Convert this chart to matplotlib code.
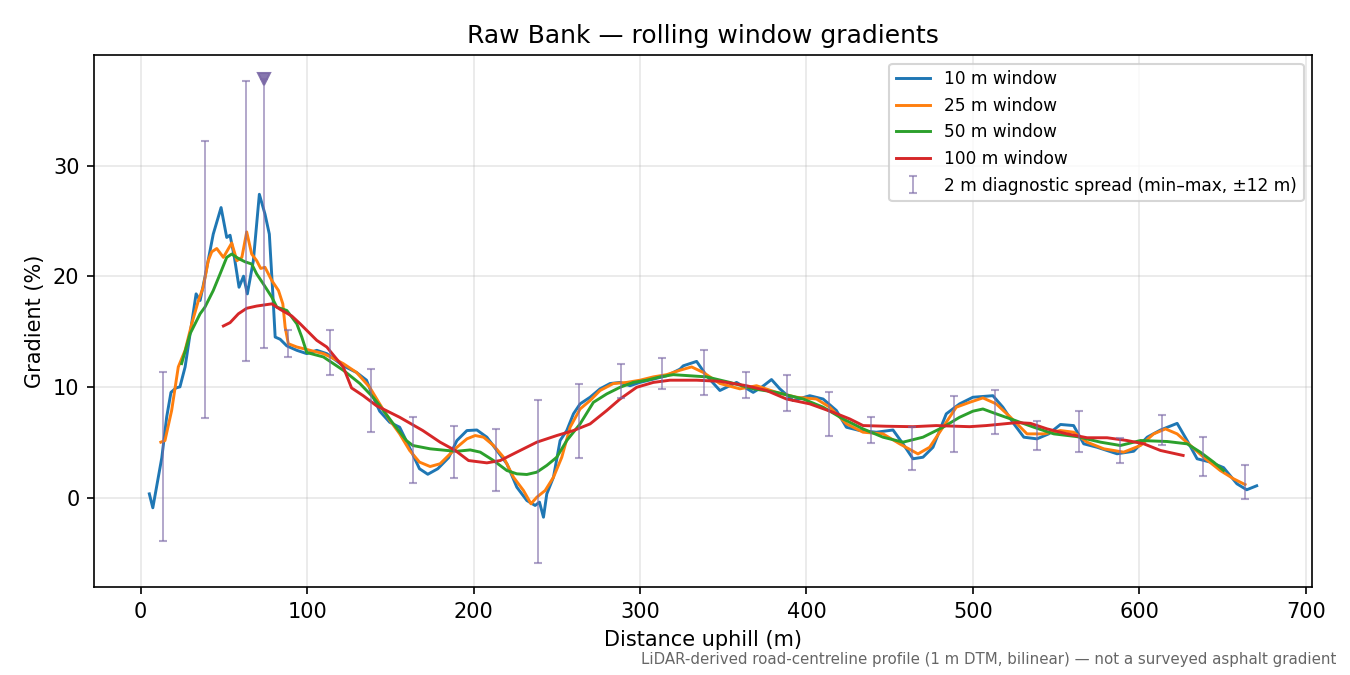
import numpy as np
import matplotlib
matplotlib.use("Agg")
from matplotlib import pyplot as plt

###########################
# rolling window gradients
x10 = [5.2, 7.3, 12.7, 15.6, 18.2, 21.2, 23.6, 26.7, 29.7, 33.3, 35.7, 38.6, 43.6, 48.3,
       51.7, 53.7, 56.3, 59.1, 61.8, 64.1, 67.7, 71.3, 74.7, 77.3, 79.4, 80.8, 83.8, 87.8,
       93.8, 99.8, 105.8, 111.8, 121.7, 129.7, 135.7, 139.6, 143.6, 149.6, 155.6, 161.6,
       167.5, 172.5, 178.5, 185, 190, 196, 202, 208, 214, 220, 226, 232, 237, 239.6, 242,
       244, 248, 252, 256, 260, 264, 270, 276, 282, 288, 294, 300, 308, 316, 324, 326, 334,
       340, 348, 358, 368, 373, 379, 384, 392, 402, 410, 418, 424, 432, 442, 452, 458, 464,
       470, 476, 484, 492, 500, 512, 518, 524.6, 530.6, 538.5, 545.5, 552.6, 560.5, 566.6,
       574.6, 586.6, 596.6, 604.7, 612.7, 622.7, 628.7, 634.7, 642.6, 650.6, 658.6, 664.5,
       670.5]
y10 = [0.33, -0.93, 3.6, 7.25, 9.5, 9.9, 10.0, 11.8, 14.8, 18.4, 17.8, 19.9, 23.8, 26.2,
       23.5, 23.7, 21.7, 19.0, 20.0, 18.4, 21.4, 27.4, 25.6, 23.8, 18.4, 14.5, 14.3, 13.7,
       13.3, 13.0, 13.3, 13.0, 11.9, 11.3, 10.6, 9.1, 7.8, 6.8, 6.35, 4.5,
       2.6, 2.1, 2.6, 3.6, 5.15, 6.05, 6.1, 5.45, 4.25, 3.05, 0.93, -0.27, -0.72, -0.42, -1.78,
       0.33, 1.83, 5.15, 6.05, 7.56, 8.46, 9.06, 9.82, 10.3, 10.4, 10.1, 10.4, 10.7, 11.0, 11.6, 11.9, 12.3,
       11.0, 9.67, 10.4, 9.5, 9.96, 10.66, 9.82, 8.76, 9.2, 8.9, 7.86, 6.35, 6.05, 5.9, 6.1, 4.85, 3.5,
       3.64, 4.54, 7.56, 8.46, 9.06, 9.2, 8.16, 6.66, 5.45, 5.3, 5.75, 6.6, 6.5, 4.85,
       4.54, 3.95, 4.18, 5.45, 6.1, 6.7, 5.15, 3.5, 3.2, 2.7, 1.24, 0.7,
       1.06]

x25 = [12.1, 14.6, 18.6, 22.6, 26.7, 30.7, 34.7, 37.6, 40.6, 42.7, 45.7, 49.7, 54.7, 57.8,
       60.8, 63.7, 66.7, 69.7, 72.1, 74.7, 78.8, 82.8, 85.4, 86.8, 88.7, 93.8, 101.8, 109.8,
       116.7, 121.7, 129.7, 137.6, 143.6, 149.6, 155.6, 161.6, 167.5, 173.9, 179.9, 185.9,
       190, 196, 201, 206, 212, 218, 224, 230, 234.5, 238, 243, 248, 253, 258, 264, 270, 276,
       284, 292, 300, 308, 316, 324, 331, 338, 348, 360, 370, 382, 394, 406, 414, 424, 434,
       446, 456, 467, 474, 482, 490, 498, 506, 514, 522.6, 532.5, 542.5, 552.6, 560.5, 568.6,
       578.6, 590.6, 600.7, 608.6, 615.7, 622.7, 630.7, 638.6, 648.6, 656.6, 663.5]
y25 = [5.0, 5.15, 7.86, 11.8, 13.3, 15.7, 17.8, 19.0, 21.4, 22.2, 22.5, 21.7, 23.0, 21.4,
       21.7, 24.0, 22.0, 21.4, 20.7, 20.8, 19.6, 18.7, 17.5, 15.4, 13.9, 13.6, 13.3, 13.0,
       12.5, 12.1, 11.3, 9.96, 8.46, 7.0, 5.75, 4.25, 3.2, 2.8, 3.05, 3.94,
       4.54, 5.3, 5.6, 5.45, 4.7, 3.64, 1.83, 0.63, -0.57, 0.03, 0.63, 1.83, 3.64, 6.35, 8.0, 8.76, 9.67,
       10.3, 10.4, 10.6, 10.9, 11.1, 11.5, 11.8, 11.3, 10.3, 9.82, 10.1, 9.5, 9.06, 8.9, 8.16, 6.66, 5.9,
       5.75, 4.85, 3.94, 4.54, 6.35, 8.16, 8.6, 9.0, 8.46, 7.25, 5.75, 5.75, 6.05, 5.9, 5.0,
       4.4, 4.1, 4.7, 5.75, 6.2, 5.75, 4.7, 3.64, 2.44, 1.69, 1.17]

x50 = [24.6, 29.7, 35.7, 38.6, 43.6, 47.7, 51.7, 54.7, 58.7, 62.7, 66.7, 69.7, 73.7, 78.8,
       81.8, 87.8, 93.8, 96.8, 99.8, 109.8, 121.7, 131.7, 139.6, 143.6, 151.6, 159.6, 163.5,
       173.9, 184, 190, 198, 204, 212, 220, 226, 232, 238, 244, 250, 256, 264, 272, 280, 288,
       296, 304, 312, 320, 330, 340, 354, 368, 382, 398, 410, 422, 434, 446, 458, 470, 482,
       492, 500, 506, 514, 524.6, 536.6, 548.6, 562.6, 576.7, 588.6, 600.7, 616.7, 628.7,
       636.6, 644.6, 650.6]
y50 = [12.1, 14.8, 16.6, 17.2, 18.7, 20.2, 21.7, 22.0, 21.6, 21.3, 21.1, 20.2, 19.3, 18.1,
       17.2, 16.9, 15.7, 14.5, 13.1, 12.7, 11.5, 10.3, 9.06, 8.3, 6.7, 5.15, 4.7,
       4.4, 4.25, 4.18, 4.3, 4.1, 3.34, 2.44, 2.14, 2.08, 2.29, 2.9, 3.64, 5.15, 6.65, 8.6, 9.36, 9.96,
       10.4, 10.6, 10.9, 11.1, 11.0, 10.9, 10.4, 9.82, 9.5, 8.9, 8.16, 7.1, 6.2, 5.45, 5.0, 5.45, 6.35,
       7.25, 7.8, 8.0, 7.56, 7.0, 6.35, 5.75, 5.5, 5.0, 4.7, 5.15, 5.06, 4.85,
       4.1, 3.2, 2.44]

x100 = [49.7, 53.7, 58.7, 63.7, 69.7, 78.8, 83.8, 90.8, 95.8, 99.8, 105.8, 111.8, 116.7,
        121.7, 126.7, 133.7, 141.6, 149.6, 155.6, 169.5, 179.9, 189, 197, 208, 216, 226, 238,
        250, 260, 270, 280, 288, 298, 308, 318, 334, 348, 364, 376, 388, 402, 416, 426, 434,
        448, 464, 478, 490, 498, 508, 526.6, 534.6, 544.6, 556.5, 568.6, 580.6, 592.6, 602.7,
        612.7, 626.3]
y100 = [15.5, 15.8, 16.6, 17.1, 17.3, 17.5, 17.0, 16.4, 15.7, 15.1, 14.2, 13.6, 12.7,
        11.8, 9.9, 9.2, 8.3, 7.7, 7.25, 6.05, 5.0, 4.25, 3.34, 3.13, 3.34, 4.1, 5.0,
        5.6, 6.05, 6.65, 7.86, 8.9, 9.96, 10.4, 10.6, 10.6, 10.5, 10.1, 9.67, 8.9, 8.46, 7.7, 7.1, 6.5,
        6.44, 6.4, 6.5, 6.44, 6.4, 6.5, 6.77, 6.7, 6.2, 5.75, 5.4, 5.4, 5.15, 4.85,
        4.25, 3.8]

# 2 m diagnostic spread, min-max over +-12 m
spread_x = [13.5, 38.5, 63.5, 74.3, 88.5, 113.5, 138.5, 163.5, 188.5, 213.5, 238.5, 263.5,
            288.5, 313.5, 338.5, 363.5, 388.5, 413.5, 438.5, 463.5, 488.5, 513.5, 538.5,
            563.5, 588.5, 613.5, 638.5, 663.5]
spread_lo = [-3.9, 7.2, 12.3, 13.5, 12.7, 11.1, 5.9, 1.3, 1.8, 0.6, -5.9, 3.55,
             8.95, 9.8, 9.25, 8.95, 7.8, 5.55, 4.9, 2.45, 4.1, 5.75, 4.3,
             4.1, 3.1, 4.75, 1.9, -0.15]
spread_hi = [11.3, 32.2, 37.6, 37.8, 15.1, 15.1, 11.6, 7.25, 6.5, 6.2, 8.85, 10.3,
             12.1, 12.65, 13.3, 11.3, 11.05, 9.5, 7.3, 6.35, 9.2, 9.7, 6.9,
             7.8, 5.4, 7.5, 5.5, 2.9]
peak_x = 74.3
peak_y = 37.8
###########################

fig, ax = plt.subplots(figsize=(9, 4.5), dpi=150)
fig.subplots_adjust(left=0.0696, right=0.9719, bottom=0.1304, top=0.9185)

ax.plot(x10, y10, color='C0', lw=1.4, label='10 m window')
ax.plot(x25, y25, color='C1', lw=1.4, label='25 m window')
ax.plot(x50, y50, color='C2', lw=1.4, label='50 m window')
ax.plot(x100, y100, color='C3', lw=1.4, label='100 m window')

lo = np.array(spread_lo)
hi = np.array(spread_hi)
mid = (lo + hi) / 2
ax.errorbar(spread_x, mid, yerr=(hi - lo) / 2, fmt='none', ecolor='#7a68a6',
            alpha=0.6, elinewidth=0.9, capsize=2,
            label='2 m diagnostic spread (min\u2013max, \u00b112 m)')
ax.plot([peak_x], [peak_y], marker='v', ms=5.5, color='#7a68a6', alpha=0.9, ls='none')

ax.grid(True, alpha=0.3)
ax.set_title('Raw Bank \u2014 rolling window gradients', fontsize=12)
ax.set_xlabel('Distance uphill (m)')
ax.set_ylabel('Gradient (%)')
ax.legend(loc='upper right', fontsize=8.2)

fig.text(0.99, 0.012, 'LiDAR-derived road-centreline profile (1 m DTM, bilinear) \u2014 not a surveyed asphalt gradient',
         ha='right', va='bottom', fontsize=7.2, color='#666666')

fig.savefig('out.png', dpi=150)
